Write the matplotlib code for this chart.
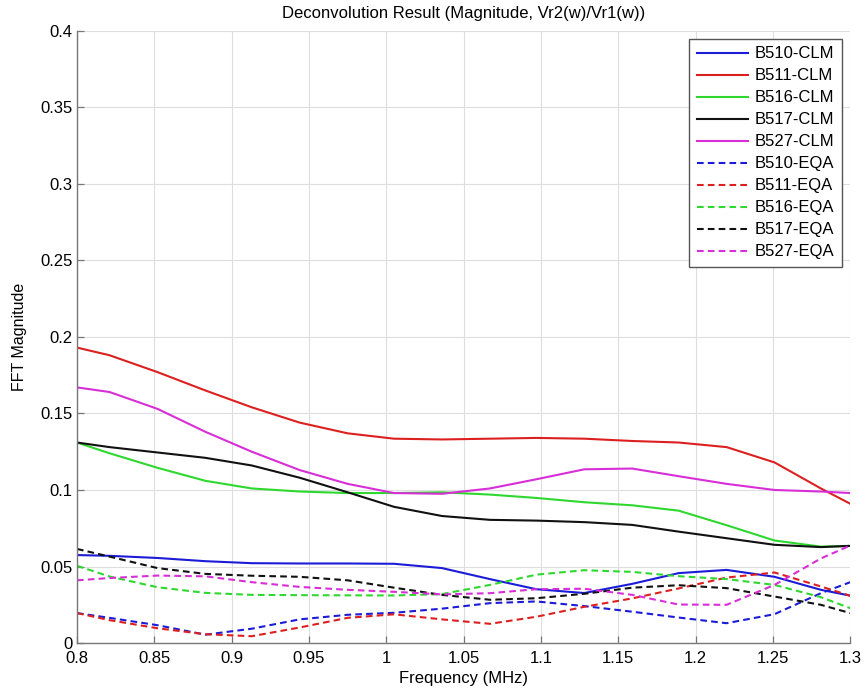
import matplotlib
matplotlib.use("Agg")
import matplotlib.pyplot as plt
from matplotlib.ticker import FuncFormatter

plt.rcParams['font.family'] = ['Liberation Sans', 'DejaVu Sans']

# frequency samples (MHz)
freq = [0.8, 0.821, 0.852, 0.883, 0.913, 0.944, 0.975, 1.005, 1.036,
        1.067, 1.097, 1.128, 1.159, 1.189, 1.220, 1.251, 1.281, 1.3]

# CLM results
b510_clm = [0.0575, 0.057, 0.0556, 0.0535, 0.0522, 0.052, 0.052, 0.0518, 0.049,
            0.0418, 0.0352, 0.0327, 0.0387, 0.0457, 0.0478, 0.0433, 0.0348, 0.031]
b511_clm = [0.193, 0.188, 0.177, 0.165, 0.154, 0.144, 0.137, 0.1335, 0.133,
            0.1335, 0.134, 0.1335, 0.132, 0.131, 0.128, 0.118, 0.101, 0.091]
b516_clm = [0.131, 0.124, 0.1145, 0.106, 0.101, 0.099, 0.098, 0.098, 0.0985,
            0.097, 0.0948, 0.092, 0.090, 0.0865, 0.077, 0.067, 0.063, 0.0635]
b517_clm = [0.131, 0.128, 0.1245, 0.121, 0.116, 0.108, 0.0985, 0.089, 0.083,
            0.0805, 0.080, 0.079, 0.0772, 0.0728, 0.0685, 0.0642, 0.0627, 0.0635]
b527_clm = [0.167, 0.164, 0.153, 0.138, 0.125, 0.113, 0.104, 0.098, 0.0975,
            0.101, 0.107, 0.1135, 0.114, 0.109, 0.104, 0.100, 0.099, 0.098]

# EQA results
b510_eqa = [0.0196, 0.0165, 0.0117, 0.0055, 0.0094, 0.0155, 0.0185, 0.0198, 0.0225,
            0.0261, 0.0272, 0.0242, 0.0205, 0.0167, 0.013, 0.0189, 0.0326, 0.0398]
b511_eqa = [0.0196, 0.015, 0.0097, 0.0058, 0.0045, 0.0102, 0.0165, 0.0188, 0.0155,
            0.0126, 0.0172, 0.0237, 0.0292, 0.0357, 0.0428, 0.0461, 0.037, 0.0309]
b516_eqa = [0.0505, 0.0435, 0.0365, 0.0328, 0.0315, 0.0313, 0.0312, 0.0311, 0.032,
            0.038, 0.0447, 0.0476, 0.0465, 0.0437, 0.0418, 0.038, 0.030, 0.0228]
b517_eqa = [0.0615, 0.0565, 0.049, 0.0452, 0.044, 0.0433, 0.041, 0.0362, 0.0315,
            0.0283, 0.0293, 0.0322, 0.0362, 0.0378, 0.0359, 0.0304, 0.025, 0.0196]
b527_eqa = [0.041, 0.0425, 0.0441, 0.0436, 0.0398, 0.0367, 0.0348, 0.0335, 0.0318,
            0.0326, 0.0352, 0.0355, 0.0315, 0.0252, 0.025, 0.038, 0.0553, 0.0637]

blue, red, green, black, magenta = '#1c1cd8', '#dc2020', '#2ed82e', '#111111', '#d82ed8'

fig = plt.figure(figsize=(8.65, 6.96), dpi=100)
ax = fig.add_axes([0.089, 0.076, 0.894, 0.880])

solid = dict(lw=1.5)
dashed = dict(lw=1.5, linestyle=(0, (3.2, 2.0)))

ax.plot(freq, b510_clm, color=blue, label='B510-CLM', **solid)
ax.plot(freq, b511_clm, color=red, label='B511-CLM', **solid)
ax.plot(freq, b516_clm, color=green, label='B516-CLM', **solid)
ax.plot(freq, b517_clm, color=black, label='B517-CLM', **solid)
ax.plot(freq, b527_clm, color=magenta, label='B527-CLM', **solid)
ax.plot(freq, b510_eqa, color=blue, label='B510-EQA', **dashed)
ax.plot(freq, b511_eqa, color=red, label='B511-EQA', **dashed)
ax.plot(freq, b516_eqa, color=green, label='B516-EQA', **dashed)
ax.plot(freq, b517_eqa, color=black, label='B517-EQA', **dashed)
ax.plot(freq, b527_eqa, color=magenta, label='B527-EQA', **dashed)

ax.set_xlim(0.8, 1.3)
ax.set_ylim(0, 0.4)
ax.set_xticks([0.8 + 0.05 * i for i in range(11)])
ax.set_yticks([0.05 * i for i in range(9)])
fmt = FuncFormatter(lambda v, pos: '%g' % round(v, 3))
ax.xaxis.set_major_formatter(fmt)
ax.yaxis.set_major_formatter(fmt)

ax.grid(True, color='#dedede', lw=0.8)
ax.set_axisbelow(True)
for side in ('top', 'right'):
    ax.spines[side].set_visible(False)
for side in ('left', 'bottom'):
    ax.spines[side].set_color('#777777')
    ax.spines[side].set_linewidth(1.0)
ax.tick_params(direction='in', length=5, width=0.9, color='#777777',
               labelsize=12)
ax.tick_params(axis='x', pad=6)
ax.tick_params(axis='y', pad=3)

ax.set_title('Deconvolution Result (Magnitude, Vr2(w)/Vr1(w))', fontsize=12, pad=9)
ax.set_xlabel('Frequency (MHz)', fontsize=12, labelpad=3)
ax.set_ylabel('FFT Magnitude', fontsize=11.5, labelpad=10)

leg = ax.legend(loc='upper right', fontsize=12, handlelength=3.1,
                labelspacing=0.42, borderpad=0.45, handletextpad=0.4,
                fancybox=False, framealpha=1, borderaxespad=0.5)
leg.get_frame().set_edgecolor('#555555')
leg.get_frame().set_linewidth(1.0)

fig.savefig('out.png', dpi=100)
